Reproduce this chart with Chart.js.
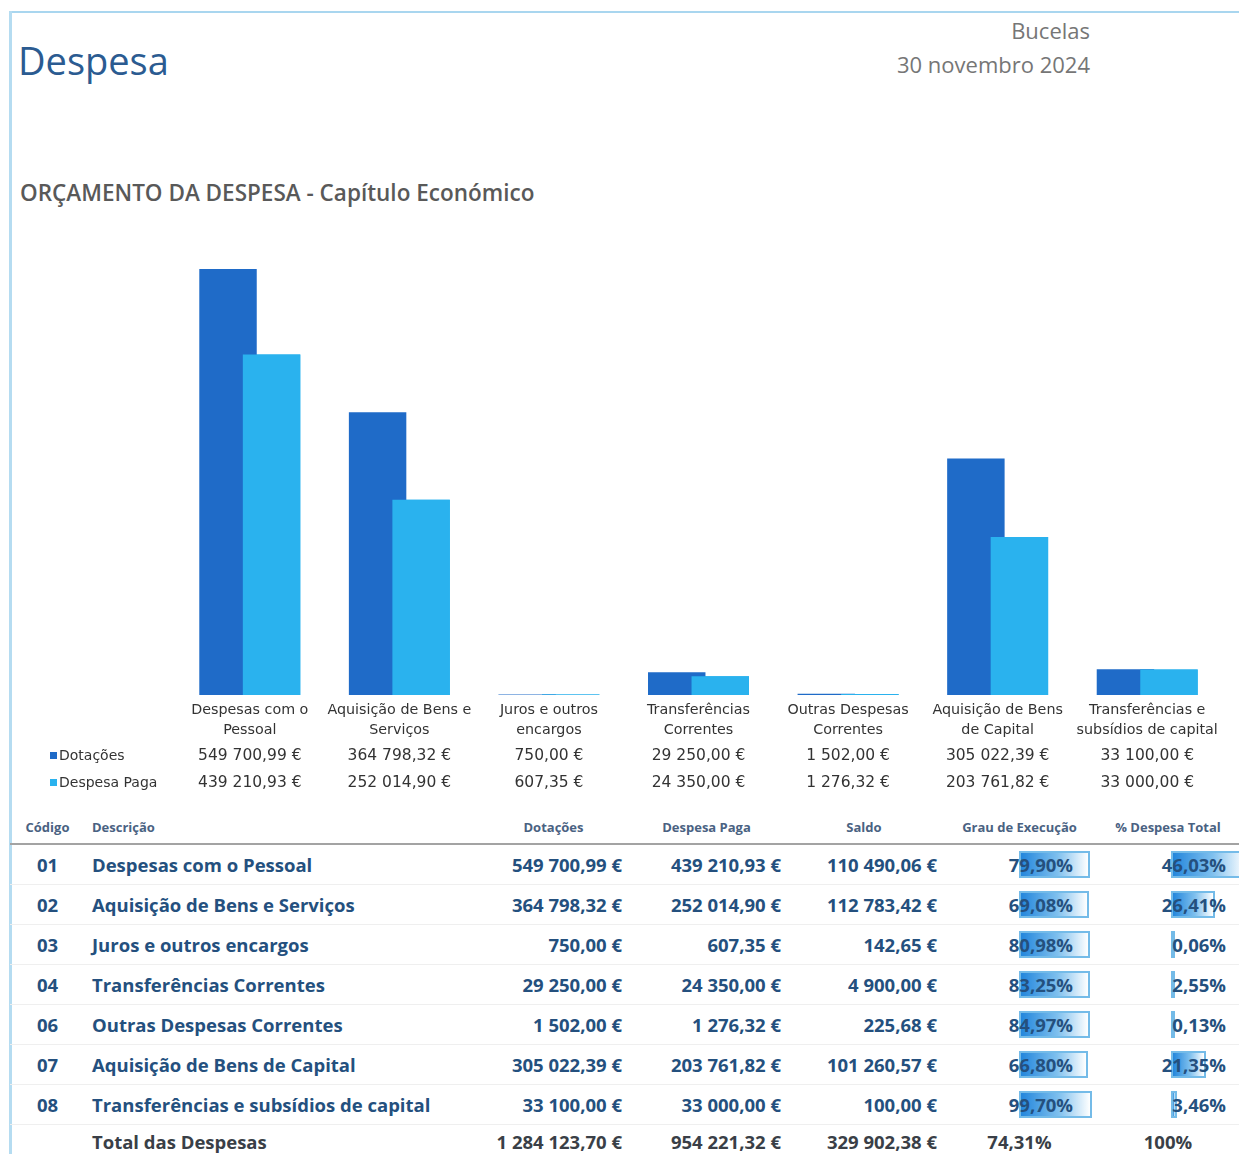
<!DOCTYPE html>
<html lang="pt">
<head>
<meta charset="utf-8">
<title>Despesa</title>
<script src="https://cdn.jsdelivr.net/npm/chart.js@4.4.1/dist/chart.umd.min.js"></script>
<style>
  html, body { margin: 0; padding: 0; background: #fff; }
  body { width: 1239px; height: 1154px; overflow: hidden; position: relative; font-family: 'Open Sans', sans-serif; }
  .moldura-topo { position: absolute; left: 10px; top: 11px; width: 1229px; height: 2px; background: #a9d6ef; }
  .moldura-esq { position: absolute; left: 9px; top: 11px; width: 3px; height: 1143px; background: #b5dcf1; }
  #titulo { position: absolute; left: 18px; top: 41px; font-size: 38px; line-height: 1; color: #2b5b91; }
  #local { position: absolute; right: 149px; top: 13px; font-size: 22px; line-height: 34px; color: #767676; text-align: right; }
  #subtitulo { position: absolute; left: 20px; top: 178px; font-size: 22.5px; font-weight: 600; line-height: 30px; color: #595959; }
  #grafico { position: absolute; left: 0; top: 210px; }
  #tabela { position: absolute; left: 10px; top: 810px; width: 1229px; border-collapse: collapse; table-layout: fixed; }
  #tabela th { height: 33px; font-size: 13px; font-weight: 700; color: #4a6282; text-align: center; padding: 0; border-bottom: 2px solid #a3a3a3; }
  #tabela td { height: 39px; padding: 0; font-size: 18.5px; font-weight: 700; color: #24507e; border-bottom: 1px solid #efefef; position: relative; white-space: nowrap; }
  #tabela tr.total td { height: 32px; color: #3a3f47; border-bottom: none; }
  .cod { text-align: center; }
  .desc { padding-left: 7px !important; }
  .num { text-align: right; padding-right: 5px !important; }
  .grau { text-align: right; padding-right: 24px !important; }
  .pct { text-align: right; padding-right: 13px !important; }
  .centro { text-align: center; }
  .barra { position: absolute; top: 6px; height: 27px; box-sizing: border-box; border: 2px solid #74bbe8; background: linear-gradient(to right, #2386dc, #7fc0ee 55%, #ffffff); }
  .valor { position: relative; }
</style>
</head>
<body>
<div class="moldura-topo"></div>
<div class="moldura-esq"></div>
<div id="titulo">Despesa</div>
<div id="local">Bucelas<br>30 novembro 2024</div>
<div id="subtitulo">ORÇAMENTO DA DESPESA - Capítulo Económico</div>
<canvas id="grafico" width="1239" height="600"></canvas>
<table id="tabela">
  <colgroup>
    <col style="width:75px"><col style="width:395px"><col style="width:147px"><col style="width:159px"><col style="width:156px"><col style="width:155px"><col style="width:142px">
  </colgroup>
  <thead>
    <tr><th>Código</th><th style="text-align:left;padding-left:7px">Descrição</th><th>Dotações</th><th>Despesa Paga</th><th>Saldo</th><th>Grau de Execução</th><th>% Despesa Total</th></tr>
  </thead>
  <tbody id="corpo"></tbody>
</table>
<script>
// categorias do gráfico (linhas do rótulo)
const categorias = [
  ['Despesas com o', 'Pessoal'],
  ['Aquisição de Bens e', 'Serviços'],
  ['Juros e outros', 'encargos'],
  ['Transferências', 'Correntes'],
  ['Outras Despesas', 'Correntes'],
  ['Aquisição de Bens', 'de Capital'],
  ['Transferências e', 'subsídios de capital']
];
const dotacoes = [549700.99, 364798.32, 750.00, 29250.00, 1502.00, 305022.39, 33100.00];
const despesaPaga = [439210.93, 252014.90, 607.35, 24350.00, 1276.32, 203761.82, 33000.00];

// tabela
const codigos = ['01', '02', '03', '04', '06', '07', '08'];
const descricoes = [
  'Despesas com o Pessoal',
  'Aquisição de Bens e Serviços',
  'Juros e outros encargos',
  'Transferências Correntes',
  'Outras Despesas Correntes',
  'Aquisição de Bens de Capital',
  'Transferências e subsídios de capital'
];
const saldos = [110490.06, 112783.42, 142.65, 4900.00, 225.68, 101260.57, 100.00];
const grauExecucao = [79.90, 69.08, 80.98, 83.25, 84.97, 66.80, 99.70];
const pctDespesaTotal = [46.03, 26.41, 0.06, 2.55, 0.13, 21.35, 3.46];
const totais = { dotacoes: 1284123.70, paga: 954221.32, saldo: 329902.38, grau: '74,31%', pct: '100%' };

const corDotacoes = '#1f6bc8';
const corPaga = '#2ab2ee';

function euro(v) {
  const partes = v.toFixed(2).split('.');
  return partes[0].replace(/\B(?=(\d{3})+(?!\d))/g, ' ') + ',' + partes[1] + ' €';
}
function pct(v) {
  return v.toFixed(2).replace('.', ',') + '%';
}

// barras "Despesa Paga" ficam por cima das Dotações
const pagaPorCima = {
  id: 'pagaPorCima',
  afterDatasetsDraw(chart) {
    chart.getDatasetMeta(1).data.forEach(bar => bar.draw(chart.ctx));
  }
};

// tabela de dados por baixo do eixo
const tabelaDados = {
  id: 'tabelaDados',
  afterDraw(chart) {
    const { ctx } = chart;
    const x = chart.scales.x;
    const linhas = [
      { nome: 'Dotações', cor: corDotacoes, valores: dotacoes, y: x.top + 61 },
      { nome: 'Despesa Paga', cor: corPaga, valores: despesaPaga, y: x.top + 88 }
    ];
    ctx.save();
    ctx.textBaseline = 'middle';
    linhas.forEach(l => {
      ctx.fillStyle = l.cor;
      ctx.fillRect(50, l.y - 4, 7, 7);
      ctx.fillStyle = '#333';
      ctx.font = '14px "DejaVu Sans"';
      ctx.textAlign = 'left';
      ctx.fillText(l.nome, 59, l.y);
      ctx.font = '15.5px "DejaVu Sans"';
      ctx.textAlign = 'center';
      l.valores.forEach((v, i) => ctx.fillText(euro(v), x.getPixelForValue(i), l.y));
    });
    ctx.restore();
  }
};

new Chart(document.getElementById('grafico'), {
  type: 'bar',
  data: {
    labels: categorias,
    datasets: [
      { label: 'Dotações', data: dotacoes, backgroundColor: corDotacoes },
      { label: 'Despesa Paga', data: despesaPaga, backgroundColor: corPaga }
    ]
  },
  options: {
    responsive: false,
    animation: false,
    devicePixelRatio: 1,
    layout: { padding: { left: 175, right: 17, top: 20, bottom: 0 } },
    datasets: { bar: { categoryPercentage: 0.582, barPercentage: 1.32 } },
    plugins: { legend: { display: false }, tooltip: { enabled: false } },
    scales: {
      x: {
        grid: { display: false, drawTicks: false },
        border: { display: false },
        ticks: { padding: 5, color: '#333', autoSkip: false, maxRotation: 0, font: { family: 'DejaVu Sans', size: 14.3, lineHeight: '20px' } },
        afterFit: s => { s.height = 115; }
      },
      y: { display: false, min: 0, max: 600000 }
    }
  },
  plugins: [pagaPorCima, tabelaDados]
});

// corpo da tabela
const corpo = document.getElementById('corpo');
function celula(tr, cls, texto) {
  const td = document.createElement('td');
  td.className = cls;
  const s = document.createElement('span');
  s.className = 'valor';
  s.textContent = texto;
  td.appendChild(s);
  tr.appendChild(td);
  return td;
}
function barra(td, esquerda, largura) {
  const b = document.createElement('div');
  b.className = 'barra';
  b.style.left = esquerda + 'px';
  b.style.width = largura + 'px';
  td.insertBefore(b, td.firstChild);
}
codigos.forEach((cod, i) => {
  const tr = document.createElement('tr');
  celula(tr, 'cod', cod);
  celula(tr, 'desc', descricoes[i]);
  celula(tr, 'num', euro(dotacoes[i]));
  celula(tr, 'num', euro(despesaPaga[i]));
  celula(tr, 'num', euro(saldos[i]));
  barra(celula(tr, 'grau', pct(grauExecucao[i])), 77, 62 + 11 * grauExecucao[i] / 100);
  barra(celula(tr, 'pct', pct(pctDespesaTotal[i])), 74, Math.max(3, 1.65 * pctDespesaTotal[i]));
  corpo.appendChild(tr);
});
const trTotal = document.createElement('tr');
trTotal.className = 'total';
celula(trTotal, 'cod', '');
celula(trTotal, 'desc', 'Total das Despesas');
celula(trTotal, 'num', euro(totais.dotacoes));
celula(trTotal, 'num', euro(totais.paga));
celula(trTotal, 'num', euro(totais.saldo));
celula(trTotal, 'centro', totais.grau);
celula(trTotal, 'centro', totais.pct);
corpo.appendChild(trTotal);
</script>
</body>
</html>
